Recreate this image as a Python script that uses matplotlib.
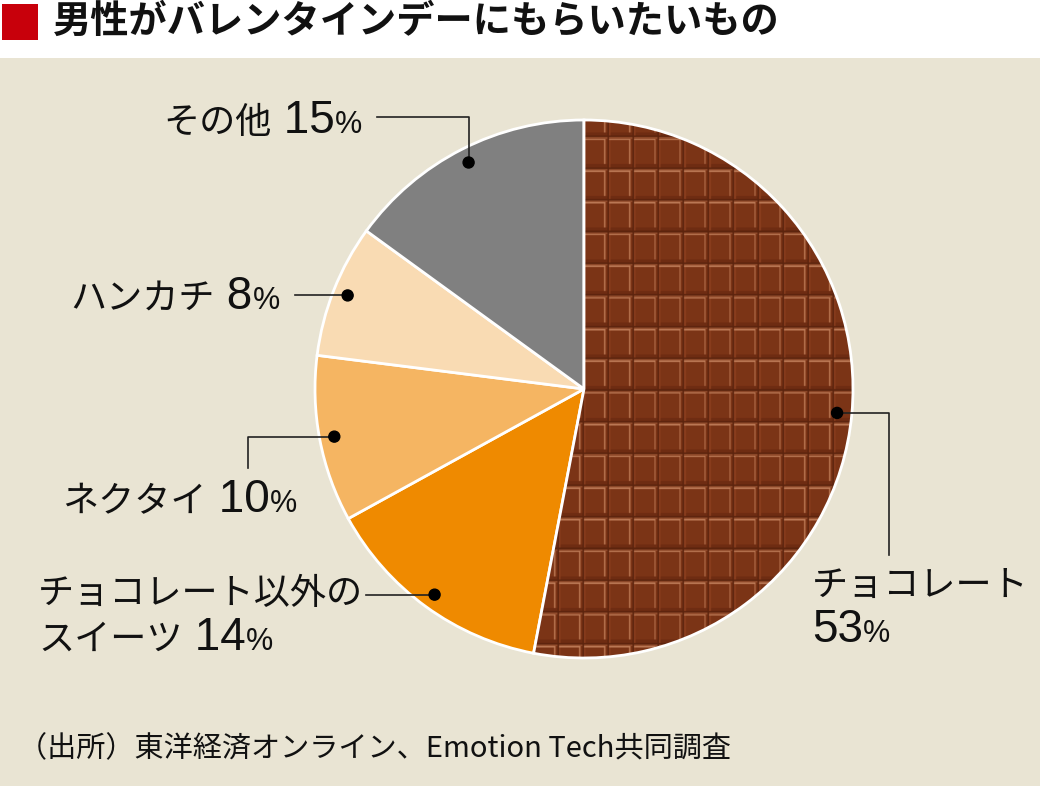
import numpy as np
import matplotlib
matplotlib.use("Agg")
import matplotlib.pyplot as plt
from matplotlib.patches import Rectangle, Circle

# データ
categories = ["チョコレート", "チョコレート以外の\nスイーツ", "ネクタイ", "ハンカチ", "その他"]
shares = [53, 14, 10, 8, 15]
colors = ["#7a3214", "#ef8a00", "#f5b562", "#f9dbb3", "#808080"]

title = "男性がバレンタインデーにもらいたいもの"
source = "（出所）東洋経済オンライン、Emotion Tech共同調査"

W, H = 1040, 786
BG = "#e9e4d3"
CX, CY, R = 584, H - 389, 269

# ラベル配置 (左端x, 1行目ベースラインy [画像座標], 数値の区切り, 引き出し線)
label_layout = [
    dict(x=812, y=596, sep="\n", leader=[("h", 889), ("v", 555)]),
    dict(x=38, y=604, sep=" ", leader=[("h", 366)]),
    dict(x=62, y=512, sep=" ", leader=[("h", 248), ("v", 468)]),
    dict(x=70, y=309, sep=" ", leader=[("h", 295)]),
    dict(x=163, y=133, sep=" ", leader=[("v", 117), ("h", 377)]),
]

JP = dict(family=["Noto Sans CJK JP", "DejaVu Sans"], fontsize=26, color="#111111")
NUM = dict(family="Liberation Sans", fontsize=33, color="#111111")
PCT = dict(family="Liberation Sans", fontsize=22, color="#111111")
LINE_GAP = 46


def chocolate_texture(step=0.5):
    # 板チョコ模様 (1枚 25 x 31.7 px)
    ys, xs = np.mgrid[CY + R:CY - R:-step, CX - R:CX + R:step]
    u = ((xs - CX) / 25.0) % 1
    v = ((CY - ys) / 31.7) % 1
    base = np.array([124, 52, 22])
    conds = [
        (v < 0.05) | (u > 0.93),
        (v < 0.10),
        (v >= 0.10) & (v < 0.14) & (u < 0.85),
        (u >= 0.80) & (u < 0.85) & (v < 0.9),
        (u < 0.06),
        (v > 0.90),
    ]
    choices = [
        np.array([92, 36, 14]),
        np.array([146, 76, 44]),
        np.array([192, 126, 90]),
        np.array([184, 116, 80]),
        np.array([138, 62, 30]),
        np.array([110, 44, 18]),
    ]
    img = np.empty(xs.shape + (3,))
    img[:] = base
    for c, col in reversed(list(zip(conds, choices))):
        img[c] = col
    return img / 255.0


fig = plt.figure(figsize=(W / 100, H / 100), dpi=100)
fig.patch.set_facecolor(BG)
ax = fig.add_axes([0, 0, 1, 1])

wedges, _ = ax.pie(shares, colors=colors, startangle=90, counterclock=False,
                   center=(CX, CY), radius=R,
                   wedgeprops=dict(edgecolor="white", linewidth=2))

# チョコレートの扇形に模様を貼る
wedges[0].set_facecolor("none")
wedges[0].set_zorder(2)
im = ax.imshow(chocolate_texture(), extent=(CX - R, CX + R, CY - R, CY + R),
               origin="upper", interpolation="bilinear", zorder=1.5)
im.set_clip_path(wedges[0])
ax.set_xlim(0, W)
ax.set_ylim(0, H)
ax.set_aspect("equal")
ax.axis("off")

# タイトル帯
ax.add_patch(Rectangle((0, H - 58), W, 58, facecolor="white", edgecolor="none", zorder=0.5))
ax.add_patch(Rectangle((2, H - 40), 36, 36, facecolor="#c8000b", edgecolor="none", zorder=3))
ax.text(53, H - 21, title, va="center", ha="left", fontsize=27.5, fontweight="bold",
        family=["Noto Sans CJK JP", "DejaVu Sans"], color="#111111")

renderer = fig.canvas.get_renderer()


def draw_parts(x, y, parts):
    for txt, style in parts:
        t = ax.text(x, H - y, txt, va="baseline", ha="left", zorder=4, **style)
        x = t.get_window_extent(renderer).x1


# ラベルと引き出し線
theta = np.deg2rad(90 - np.cumsum([0] + shares[:-1]) * 3.6 - np.array(shares) * 1.8)
for name, share, ang, lay in zip(categories, shares, theta, label_layout):
    dx = CX + 0.945 * R * np.cos(ang)
    dy = CY + 0.945 * R * np.sin(ang)
    px, py = [dx], [dy]
    for kind, val in lay["leader"]:
        if kind == "h":
            px.append(val)
            py.append(py[-1])
        else:
            px.append(px[-1])
            py.append(H - val)
    ax.plot(px, py, color="#222222", lw=1.2, zorder=3)
    ax.add_patch(Circle((dx, dy), 5.5, color="black", zorder=3.5))

    lines = name.split("\n")
    rows = [[(ln, JP)] for ln in lines]
    num = f"{share}"
    if lay["sep"] == "\n":
        rows.append([(num, NUM), ("%", PCT)])
    else:
        rows[-1] += [(lay["sep"] + num, NUM), ("%", PCT)]
    for i, row in enumerate(rows):
        draw_parts(lay["x"], lay["y"] + i * LINE_GAP, row)

ax.text(18, H - 757, source, va="baseline", ha="left", fontsize=21,
        family=["Noto Sans CJK JP", "DejaVu Sans"], color="#111111")

fig.savefig("out.png", dpi=100, facecolor=BG)
